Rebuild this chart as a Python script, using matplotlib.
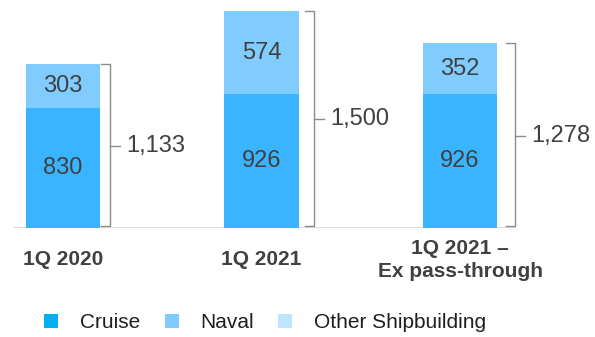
import matplotlib.pyplot as plt
from matplotlib.lines import Line2D

plt.rcParams['font.family'] = ['Liberation Sans', 'DejaVu Sans']

categories = ['1Q 2020', '1Q 2021', '1Q 2021 –\nEx pass-through']
bottom_vals = [830, 926, 926]
top_vals = [303, 574, 352]
legend_labels = ['Cruise', 'Naval', 'Other Shipbuilding']

# layout (pixels -> data: 1 unit = 198.5 px)
brace_gap = [0.05, 0.08, 0.09]
bar_w = 0.373
text_col = '#404040'


def main():
	fig = plt.figure(figsize=(5.95, 3.37), dpi=100)
	ax = fig.add_axes([0, (337 - 228) / 337, 1, 228 / 337])
	x = list(range(len(categories)))

	ax.bar(x, bottom_vals, width=bar_w, color='#3AB4FF', zorder=2)
	ax.bar(x, top_vals, width=bar_w, bottom=bottom_vals, color='#80CCFF', zorder=2)

	for i in x:
		b, t = bottom_vals[i], top_vals[i]
		ax.text(i, b / 2, str(b), ha='center', va='center', fontsize=17, color=text_col)
		ax.text(i, b + t / 2, str(t), ha='center', va='center', fontsize=17, color=text_col)

		# brace on the right
		total = b + t
		xv = i + bar_w / 2 + brace_gap[i]
		arm = 0.045
		ax.plot([xv - arm, xv, xv, xv - arm], [total, total, 15, 15],
				color='#8c8c8c', lw=1, solid_joinstyle='round', zorder=3)
		ax.plot([xv, xv + 0.05], [total / 2, total / 2], color='#8c8c8c', lw=1, zorder=3)
		ax.text(xv + 0.08, total / 2, f'{total:,}', ha='left', va='center',
				fontsize=17, color=text_col)

	# baseline
	ax.axhline(0, xmin=14 / 595, xmax=513 / 595, color='#d9d9d9', lw=2, zorder=1)

	ax.set_xlim(-63 / 198.5, (595 - 63) / 198.5)
	ax.set_ylim(0, 1576)
	ax.set_xticks(x)
	ax.set_xticklabels(categories, fontsize=15, fontweight='bold', color=text_col, linespacing=1.3)
	for lab in ax.get_xticklabels():
		lab.set_va('center')
	ax.tick_params(axis='x', length=0, pad=23)
	ax.set_yticks([])
	for s in ax.spines.values():
		s.set_visible(False)

	handles = [Line2D([], [], ls='none', marker='s', markersize=9.4, markeredgewidth=0, color=c)
			   for c in ['#00B0F0', '#7FCBFF', '#BDE5FF']]
	fig.legend(handles, legend_labels, loc='center left', bbox_to_anchor=(44.5 / 595, 1 - 323 / 337),
			   ncol=3, frameon=False, fontsize=15, handlelength=0.63, handletextpad=1.08,
			   columnspacing=1.18, borderpad=0, borderaxespad=0, labelcolor='#1f1f1f')

	fig.savefig('out.png', dpi=100)


if __name__ == '__main__':
	main()
